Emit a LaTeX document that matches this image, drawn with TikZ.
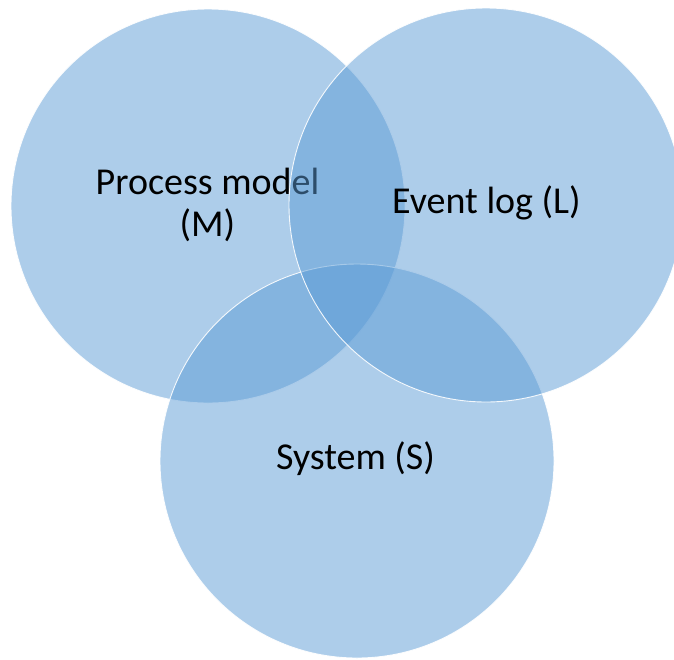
\documentclass[tikz,border=0pt]{standalone}
\usepackage{fontspec}
\setmainfont{Carlito}
\definecolor{vennblue}{RGB}{91,155,213}
\begin{document}
\begin{tikzpicture}[x=1pt,y=-1pt,
  venn/.style={circle, fill=vennblue, fill opacity=0.5, draw=white,
    draw opacity=0.9, line width=0.9pt, minimum size=394pt, inner sep=0pt},
  venntext/.style={font=\fontsize{38}{42}\selectfont, text=black,
    align=center, inner sep=0pt, anchor=base}]
  \useasboundingbox (0,0) rectangle (674,659);
  \clip (0,0) rectangle (674,659);
  % process model
  \node[venn] (M) at (208,206) {};
  \node[venntext] (Mtext) at (207.5,236) {Process model\\(M)};
  % system
  \node[venn] (S) at (357,461) {};
  \node[venntext] (Stext) at (355.5,469) {System (S)};
  % event log
  \node[venn] (L) at (486,205) {};
  \node[venntext] (Ltext) at (486.5,213) {Event log (L)};
\end{tikzpicture}
\end{document}
